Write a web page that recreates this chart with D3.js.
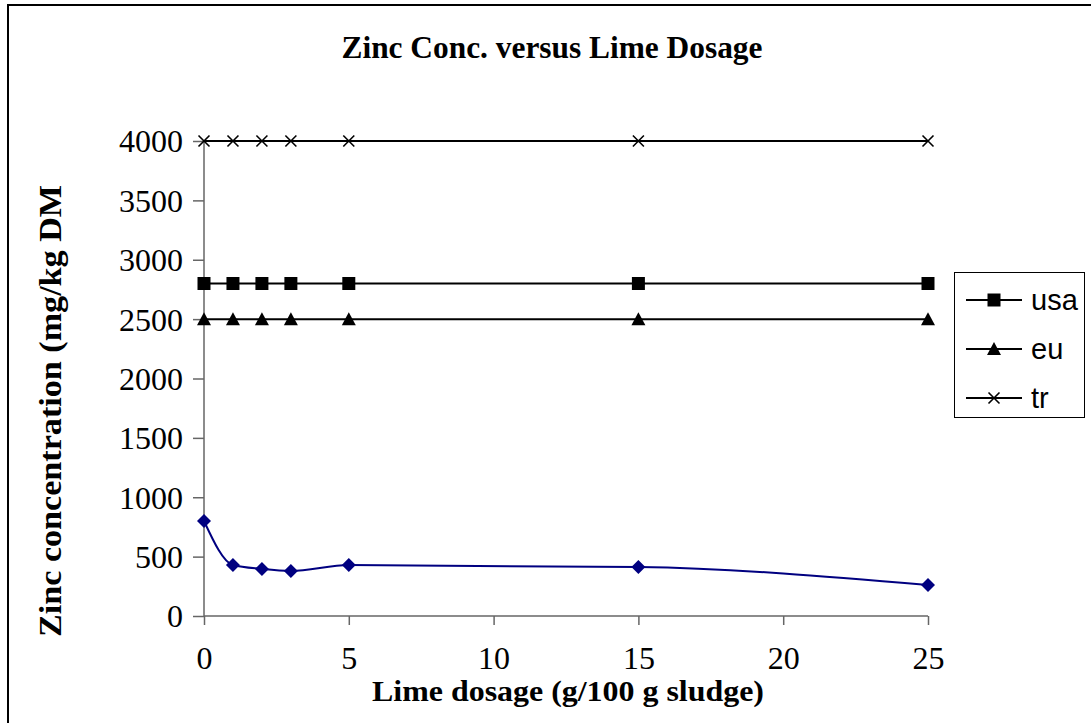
<!DOCTYPE html>
<html>
<head>
  <meta charset="utf-8">
  <title>Zinc Conc. versus Lime Dosage</title>
  <script src="https://d3js.org/d3.v7.min.js"></script>
  <style>
    body { margin: 0; background: #fff; }
    svg { display: block; }
  </style>
</head>
<body>
  <script>
    // data
    const dosage = [0, 1, 2, 3, 5, 15, 25];
    const zinc = [800, 429, 396, 379, 429, 412, 261];
    const usa = [2800, 2800, 2800, 2800, 2800, 2800, 2800];
    const eu = [2500, 2500, 2500, 2500, 2500, 2500, 2500];
    const tr = [4000, 4000, 4000, 4000, 4000, 4000, 4000];
    const xTicks = [0, 5, 10, 15, 20, 25];
    const yTicks = [0, 500, 1000, 1500, 2000, 2500, 3000, 3500, 4000];

    const width = 1091, height = 723;
    const svg = d3.select('body').append('svg')
      .attr('width', width)
      .attr('height', height);

    // chart frame (right/bottom edges fall outside the picture)
    svg.append('rect')
      .attr('x', 8).attr('y', 5)
      .attr('width', 1100).attr('height', 740)
      .attr('fill', '#fff')
      .attr('stroke', '#000').attr('stroke-width', 2);

    const x = d3.scaleLinear().domain([0, 25]).range([204, 928]);
    const y = d3.scaleLinear().domain([0, 4000]).range([616, 141]);

    const serif = 'Liberation Serif, Times New Roman, serif';
    const axisCol = '#666';

    // y axis
    const yAxis = svg.append('g')
      .attr('transform', 'translate(204,0)')
      .call(d3.axisLeft(y).tickValues(yTicks).tickSize(11).tickPadding(10).tickFormat(d3.format('d')));
    // x axis
    const xAxis = svg.append('g')
      .attr('transform', 'translate(0,616)')
      .call(d3.axisBottom(x).tickValues(xTicks).tickSize(9).tickPadding(9));

    [yAxis, xAxis].forEach(g => {
      g.select('.domain').attr('stroke', axisCol).attr('stroke-width', 1.5);
      g.selectAll('.tick line').attr('stroke', axisCol).attr('stroke-width', 1.5);
      g.selectAll('text')
        .attr('fill', '#000')
        .style('font-family', serif)
        .style('font-size', '32px');
    });
    yAxis.selectAll('text').attr('dy', '0.34em');
    xAxis.selectAll('text').attr('dy', '1.08em');
    yAxis.select('.domain').attr('d', 'M0,616V141');
    xAxis.select('.domain').attr('d', 'M204,0H928');

    // titles
    svg.append('text')
      .attr('x', 552).attr('y', 58)
      .attr('text-anchor', 'middle')
      .attr('textLength', 421).attr('lengthAdjust', 'spacingAndGlyphs')
      .style('font-family', serif).style('font-weight', 'bold').style('font-size', '31px')
      .text('Zinc Conc. versus Lime Dosage');
    svg.append('text')
      .attr('x', 568).attr('y', 701)
      .attr('text-anchor', 'middle')
      .attr('textLength', 392).attr('lengthAdjust', 'spacingAndGlyphs')
      .style('font-family', serif).style('font-weight', 'bold').style('font-size', '30px')
      .text('Lime dosage (g/100 g sludge)');
    svg.append('text')
      .attr('transform', 'translate(61,411) rotate(-90)')
      .attr('text-anchor', 'middle')
      .attr('textLength', 452).attr('lengthAdjust', 'spacingAndGlyphs')
      .style('font-family', serif).style('font-weight', 'bold').style('font-size', '32px')
      .text('Zinc concentration (mg/kg DM');

    const straight = d3.line().x(d => x(d[0])).y(d => y(d[1]));
    const smooth = d3.line().x(d => x(d[0])).y(d => y(d[1])).curve(d3.curveMonotoneX);

    const limits = [
      { name: 'usa', values: usa },
      { name: 'eu', values: eu },
      { name: 'tr', values: tr }
    ];

    function drawMarker(g, name, cx, cy) {
      let d;
      if (name === 'tr') {
        d = `M${cx - 5.5},${cy - 5.5}L${cx + 5.5},${cy + 5.5}M${cx - 5.5},${cy + 5.5}L${cx + 5.5},${cy - 5.5}`;
        g.append('path').attr('d', d)
          .attr('stroke', '#000').attr('stroke-width', 1.6).attr('fill', 'none');
        return;
      }
      if (name === 'usa') d = `M${cx - 6.5},${cy - 6.5}h13v13h-13Z`;
      else d = `M${cx},${cy - 7}L${cx + 7},${cy + 6}L${cx - 7},${cy + 6}Z`;
      g.append('path').attr('d', d).attr('fill', '#000');
    }

    limits.forEach(s => {
      const pts = dosage.map((d, i) => [d, s.values[i]]);
      svg.append('path')
        .attr('d', straight(pts))
        .attr('fill', 'none').attr('stroke', '#000').attr('stroke-width', 2);
      const g = svg.append('g');
      pts.forEach(p => drawMarker(g, s.name, x(p[0]), y(p[1])));
    });

    // measured zinc series
    const zPts = dosage.map((d, i) => [d, zinc[i]]);
    svg.append('path')
      .attr('d', smooth(zPts))
      .attr('fill', 'none').attr('stroke', '#000080').attr('stroke-width', 2);
    svg.append('g').selectAll('path')
      .data(zPts).join('path')
      .attr('d', d => {
        const cx = x(d[0]), cy = y(d[1]);
        return `M${cx},${cy - 7}L${cx + 7},${cy}L${cx},${cy + 7}L${cx - 7},${cy}Z`;
      })
      .attr('fill', '#000080');

    // legend
    const leg = svg.append('g');
    leg.append('rect')
      .attr('x', 954.5).attr('y', 272.5)
      .attr('width', 130).attr('height', 145)
      .attr('fill', '#fff').attr('stroke', '#000').attr('stroke-width', 1);
    limits.forEach((s, i) => {
      const cy = 300 + i * 49;
      leg.append('line')
        .attr('x1', 966).attr('x2', 1022).attr('y1', cy).attr('y2', cy)
        .attr('stroke', '#000').attr('stroke-width', 2);
      drawMarker(leg, s.name, 994, cy);
      leg.append('text')
        .attr('x', 1031).attr('y', cy + 10)
        .style('font-family', 'Liberation Sans, Arial, sans-serif').style('font-size', '29px')
        .text(s.name);
    });
  </script>
</body>
</html>
